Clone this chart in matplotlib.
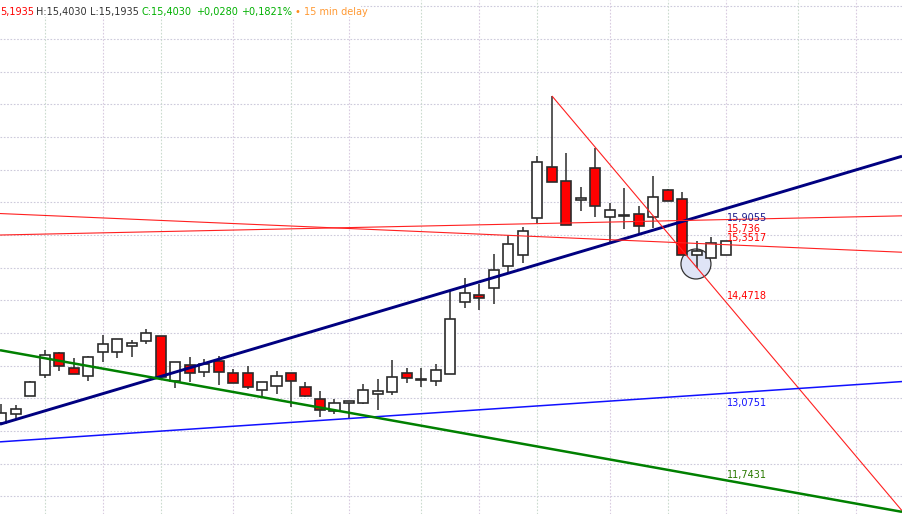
"""
Gráfico de velas (15 min) con líneas de tendencia
"""

import matplotlib
matplotlib.use("Agg")
import matplotlib.pyplot as plt
from matplotlib.patches import Ellipse, Rectangle

# ─────────────────────────────────────────────
# DATOS: velas de 15 minutos (O, H, L, C)
# ─────────────────────────────────────────────
OPEN = [12.621, 12.759, 13.034, 13.356, 13.693, 13.463, 13.341, 13.708, 13.708, 13.800,
        13.877, 13.953, 13.264, 13.509, 13.402, 13.570, 13.387, 13.387, 13.126, 13.188,
        13.387, 13.172, 12.989, 12.805, 12.927, 12.927, 13.065, 13.096, 13.387, 13.279,
        13.264, 13.371, 14.474, 14.581, 14.688, 15.025, 15.194, 15.760, 16.541, 16.327,
        16.036, 16.526, 15.776, 15.790, 15.822, 15.776, 16.189, 16.051, 15.194, 15.148,
        15.1935]
HIGH = [12.912, 12.897, 13.264, 13.739, 13.708, 13.616, 13.647, 13.969, 13.907, 13.892,
        14.060, 13.953, 13.555, 13.632, 13.601, 13.647, 13.448, 13.494, 13.249, 13.417,
        13.387, 13.249, 13.111, 12.989, 12.958, 13.218, 13.295, 13.586, 13.463, 13.463,
        13.524, 14.642, 14.841, 14.750, 15.209, 15.500, 15.623, 16.710, 17.629, 16.756,
        16.235, 16.832, 15.990, 16.220, 15.944, 16.404, 16.204, 16.158, 15.408, 15.469,
        15.403]
LOW = [12.590, 12.682, 13.034, 13.310, 13.417, 13.371, 13.264, 13.555, 13.616, 13.632,
       13.831, 13.325, 13.157, 13.249, 13.325, 13.203, 13.234, 13.142, 13.019, 13.065,
       12.866, 13.019, 12.713, 12.759, 12.682, 12.912, 12.820, 13.050, 13.234, 13.172,
       13.188, 13.371, 14.382, 14.351, 14.443, 14.918, 15.071, 15.668, 16.312, 15.653,
       15.868, 15.776, 15.393, 15.592, 15.531, 15.607, 16.021, 15.194, 14.995, 15.148,
       15.1935]
CLOSE = [12.774, 12.835, 13.249, 13.662, 13.494, 13.371, 13.632, 13.831, 13.907, 13.846,
         13.999, 13.325, 13.555, 13.387, 13.524, 13.402, 13.234, 13.172, 13.249, 13.341,
         13.264, 13.034, 12.820, 12.927, 12.958, 13.126, 13.111, 13.325, 13.310, 13.290,
         13.433, 14.214, 14.612, 14.535, 14.964, 15.362, 15.561, 16.618, 16.312, 15.653,
         16.067, 15.944, 15.883, 15.806, 15.638, 16.082, 16.021, 15.194, 15.255, 15.375,
         15.403]

# Cambios de hora (índice de vela) para la rejilla vertical
HORAS_IDX = [3, 7, 11, 16, 20, 24, 29, 33, 37, 42, 46, 50, 55, 59]
NIVELES = [11.5 + 0.5 * k for k in range(16)]

# ─────────────────────────────────────────────
# LÍNEAS DE TENDENCIA: punto inicial y valor en la última vela
# ─────────────────────────────────────────────
TREND_NOMBRES = ["soporte", "res_a", "res_b", "bajista", "canal", "largo"]
TREND_I0 = [0, 0, 0, 38, 0, 0]
TREND_P0 = [12.607, 15.500, 15.828, 17.629, 12.333, 13.733]
TREND_PFIN = [15.9055, 15.736, 15.3517, 14.4718, 13.0751, 11.7431]
TREND_TEXTO = ["15,9055", "15,736", "15,3517", "14,4718", "13,0751", "11,7431"]

# Marca circular sobre la vela 48
CIRCULO_IDX = 47.93
CIRCULO_PRECIO = 15.056

# Cabecera OHLC (la apertura aparece recortada por el borde)
CABECERA = [
    ("5,1935", "#ff0000"),
    ("H:15,4030", "#333333"),
    ("L:15,1935", "#333333"),
    ("C:15,4030", "#00b000"),
    ("+0,0280", "#00b000"),
    ("+0,1821%", "#00b000"),
    ("\u2022", "#ff8c1a"),
    ("15 min delay", "#ff9933"),
]

# ─────────────────────────────────────────────
# ESTILOS
# ─────────────────────────────────────────────
ESTILO = {
    "soporte": dict(color="#000080", lw=2.1, dy=-7.0),
    "res_a":   dict(color="#ff2020", lw=0.8, dy=-6.8),
    "res_b":   dict(color="#ff2020", lw=0.8, dy=4.8),
    "bajista": dict(color="#ff2020", lw=0.8, dy=4.5),
    "canal":   dict(color="#1010ff", lw=1.1, dy=-7.0),
    "largo":   dict(color="#008000", lw=1.8, dy=3.8),
}
TEXTO_COLOR = {
    "soporte": "#1a1a8c", "res_a": "#ff0000", "res_b": "#ff0000",
    "bajista": "#ff0000", "canal": "#1010ff", "largo": "#2a7a00",
}
CABECERA_X = [0, 36, 90, 142, 196, 241, 294, 304]  # píxeles
W, H = 902, 514
XLIM = (-0.07, 62.14)
YLIM = (11.227, 19.099)


def dibujar_velas(ax):
    """Mechas y cuerpos de las velas."""
    x = list(range(len(OPEN)))
    ax.vlines(x, LOW, HIGH, color="#2b2b2b", lw=1.1, zorder=2)
    base = [min(o, c) for o, c in zip(OPEN, CLOSE)]
    alto = [abs(c - o) for o, c in zip(OPEN, CLOSE)]
    colores = ["#ff0000" if c < o else "white" for o, c in zip(OPEN, CLOSE)]
    ax.bar(x, alto, bottom=base, width=0.69, color=colores,
           edgecolor="#2b2b2b", linewidth=1.2, zorder=2.5)


def dibujar_tendencias(ax):
    """Líneas de tendencia extendidas hasta el borde derecho."""
    for nombre, i0, p0, pf, txt in zip(TREND_NOMBRES, TREND_I0, TREND_P0,
                                       TREND_PFIN, TREND_TEXTO):
        est = ESTILO[nombre]
        pend = (pf - p0) / (50 - i0)
        xa = XLIM[0] if i0 == 0 else i0
        xb = XLIM[1]
        ax.plot([xa, xb], [p0 + pend * (xa - i0), p0 + pend * (xb - i0)],
                color=est["color"], lw=est["lw"], zorder=3,
                solid_capstyle="butt")
        ax.annotate(txt, (50, pf), xytext=(0.6, est["dy"]),
                    textcoords="offset points", ha="left", va="center",
                    fontsize=7, color=TEXTO_COLOR[nombre], zorder=5)


fig = plt.figure(figsize=(W / 100, H / 100), dpi=100)
ax = fig.add_axes([0, 0, 1, 1])
ax.set_xlim(*XLIM)
ax.set_ylim(*YLIM)
ax.axis("off")

# Rejilla punteada
for nivel in NIVELES:
    ax.axhline(nivel, color="#cdcadb", lw=0.8, ls=(0, (1.5, 1.5)), zorder=0)
for k, idx in enumerate(HORAS_IDX):
    col = "#d9cbe0" if k % 2 else "#cbdbcf"
    ax.axvline(idx, color=col, lw=0.8, ls=(0, (1.5, 1.5)), zorder=0)

ax.add_patch(Ellipse((CIRCULO_IDX, CIRCULO_PRECIO), 30 / 14.5, 30 / 65.3,
                     facecolor="#dfe4f6", edgecolor="#333333", lw=0.9,
                     zorder=1.5))

dibujar_velas(ax)
dibujar_tendencias(ax)

# Fondo blanco de la cabecera
fig.add_artist(Rectangle((0, 1 - 17 / H), 361 / W, 17 / H,
                         transform=fig.transFigure, facecolor="white",
                         edgecolor="none", zorder=4))
for (txt, col), px in zip(CABECERA, CABECERA_X):
    fig.text(px / W, 1 - 12 / H, txt, color=col, fontsize=7,
             ha="left", va="center", zorder=5)

plt.savefig("out.png", dpi=100)
